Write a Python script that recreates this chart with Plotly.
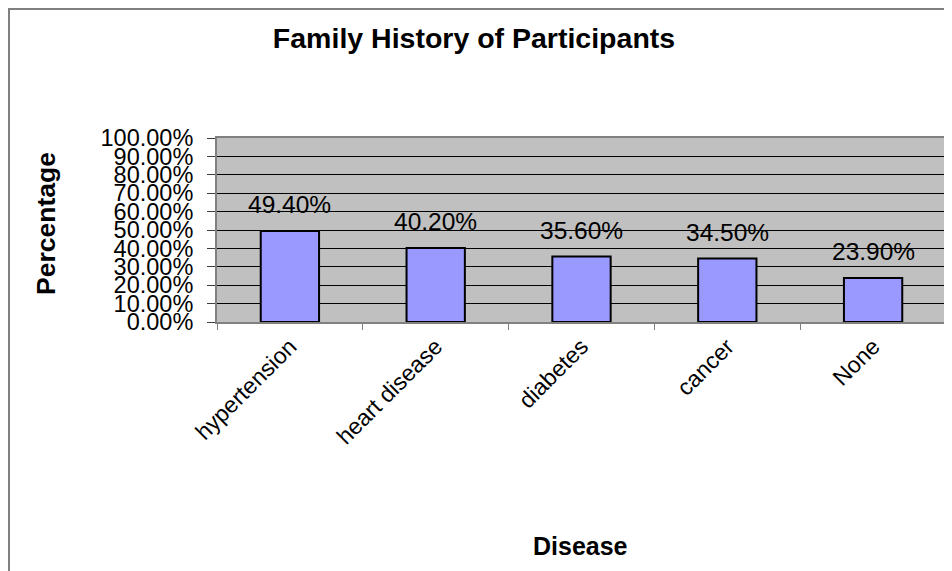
import plotly.graph_objects as go

categories = ["hypertension", "heart disease", "diabetes", "cancer", "None"]
values = [0.494, 0.402, 0.356, 0.345, 0.239]
value_labels = ["49.40%", "40.20%", "35.60%", "34.50%", "23.90%"]
y_ticks = [0.0, 0.1, 0.2, 0.3, 0.4, 0.5, 0.6, 0.7, 0.8, 0.9, 1.0]

# The page body has an 8px margin, so the figure is drawn 8px right/down.
OFF = 8
W, H = 952 - OFF, 571 - OFF
# plot area in screen pixels: x 217..946, y 138..322
L = 217 - OFF
R = W - (946 - OFF)
T = 138 - OFF
B = H - (322 - OFF)
PW = W - L - R
PH = H - T - B

def px2x(sx):
    return (sx - OFF - L) / PW

def py2y(sy):
    return (H - B - (sy - OFF)) / PH

FONT = "Liberation Sans, Arial, sans-serif"

fig = go.Figure()
fig.add_trace(go.Bar(
    x=categories, y=values,
    marker=dict(color="#9999FF", line=dict(color="black", width=2)),
    width=0.4,
    hoverinfo="skip",
))

annotations = []
for c, v, t in zip(categories, values, value_labels):
    annotations.append(dict(x=c, y=v, xref="x", yref="y", text=t, showarrow=False,
                            xanchor="center", yanchor="bottom", yshift=11,
                            font=dict(family=FONT, size=24.5, color="black")))
annotations.append(dict(x=px2x(580), y=py2y(546), xref="paper", yref="paper",
                        text="<b>Disease</b>", showarrow=False,
                        xanchor="center", yanchor="middle",
                        font=dict(family=FONT, size=25, color="black")))
annotations.append(dict(x=px2x(46), y=py2y(224), xref="paper", yref="paper",
                        text="<b>Percentage</b>", showarrow=False, textangle=-90,
                        xanchor="center", yanchor="middle",
                        font=dict(family=FONT, size=26.5, color="black")))

shapes = [
    dict(type="line", xref="paper", yref="paper", x0=px2x(8), x1=px2x(970),
         y0=py2y(9), y1=py2y(9), line=dict(color="#808080", width=2)),
    dict(type="line", xref="paper", yref="paper", x0=px2x(9), x1=px2x(9),
         y0=py2y(8), y1=py2y(590), line=dict(color="#808080", width=2)),
]

fig.update_layout(
    width=W, height=H,
    template="none",
    margin=dict(l=L, r=R, t=T, b=B, autoexpand=False),
    paper_bgcolor="white",
    plot_bgcolor="#C0C0C0",
    showlegend=False,
    bargap=0.6,
    title=dict(text="<b>Family History of Participants</b>", x=px2x(474), xref="paper",
               xanchor="center", y=1 - (38 - OFF) / H, yref="container", yanchor="middle",
               font=dict(family=FONT, size=28.5, color="black")),
    annotations=annotations,
    shapes=shapes,
    xaxis=dict(
        type="category", categoryorder="array", categoryarray=categories,
        showgrid=False, showline=True, linecolor="#808080", linewidth=2, mirror=True,
        ticks="outside", ticklen=6, tickcolor="#808080", tickwidth=1,
        tickson="boundaries", tickangle=-45,
        tickfont=dict(family=FONT, size=23, color="black"),
        automargin=False, zeroline=False,
    ),
    yaxis=dict(
        range=[0, 1], tickvals=y_ticks, tickformat=".2%",
        showgrid=True, gridcolor="black", gridwidth=1,
        showline=True, linecolor="#808080", linewidth=2, mirror=True,
        ticks="outside", ticklen=8, tickcolor="#404040", tickwidth=1,
        ticklabelstandoff=9,
        tickfont=dict(family=FONT, size=23.5, color="black"),
        automargin=False, zeroline=False,
    ),
)

fig.write_html("out.html")
